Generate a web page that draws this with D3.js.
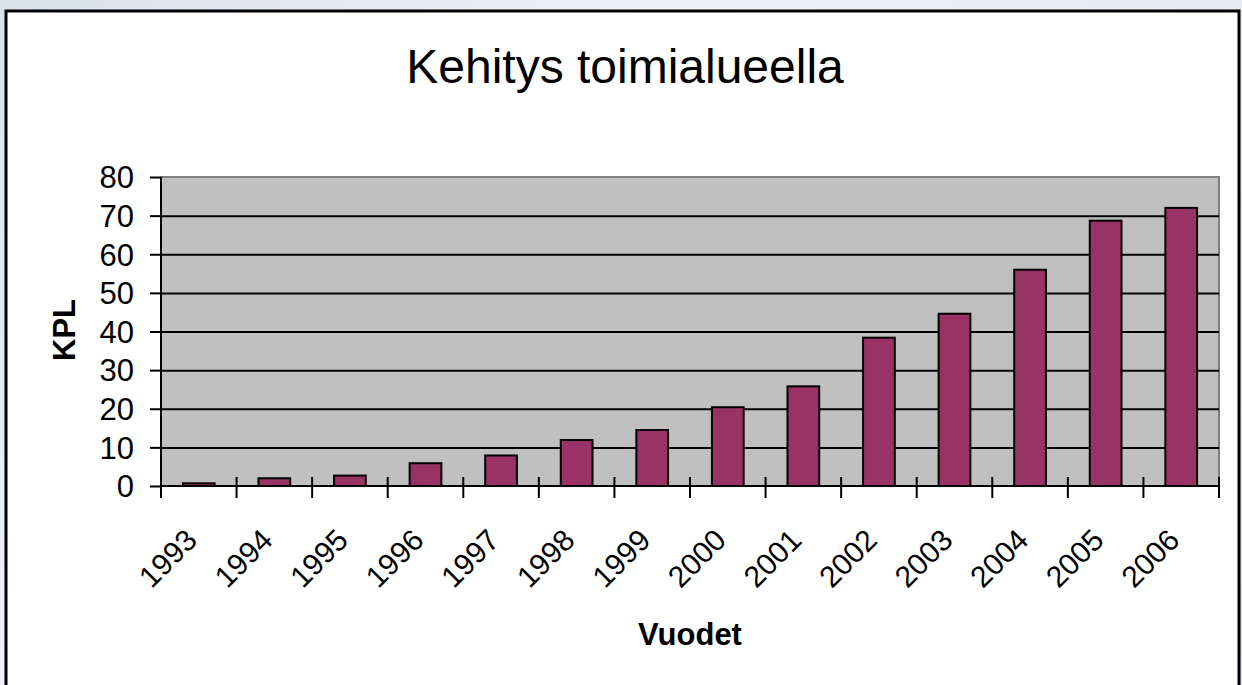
<!DOCTYPE html>
<html>
<head>
<meta charset="utf-8">
<script src="https://cdn.jsdelivr.net/npm/d3@7/dist/d3.min.js"></script>
<style>
  html,body{margin:0;padding:0;}
  body{width:1242px;height:685px;overflow:hidden;
    background:linear-gradient(135deg,#d9e1e9 0%,#eef2f6 35%,#e4eaf0 70%,#d5dde6 100%);}
  svg{display:block;font-family:"Liberation Sans",Arial,sans-serif;}
</style>
</head>
<body>
<svg id="chart" width="1242" height="685"></svg>
<script>
// data
var years=["1993","1994","1995","1996","1997","1998","1999","2000","2001","2002","2003","2004","2005","2006"];
var counts=[0.7,2,2.7,5.9,7.9,11.9,14.5,20.4,25.8,38.4,44.6,56,68.7,72];
var yTicks=[0,10,20,30,40,50,60,70,80];
var chartTitle="Kehitys toimialueella";
var yTitle="KPL";
var xTitle="Vuodet";

var svg=d3.select("#chart");

//plot area box
var plot={left:161,right:1219,top:177,bottom:486};

//white chart frame
svg.append("rect")
	.attr("x",6).attr("y",11)
	.attr("width",1233).attr("height",700)
	.attr("fill","#fff")
	.attr("stroke","#000")
	.attr("stroke-width",3);

var xCat=d3.scaleBand().domain(years).range([plot.left,plot.right]).padding(0);
var xBar=d3.scaleBand().domain(years).range([plot.left,plot.right]).paddingInner(0.58).paddingOuter(0.29);
var y=d3.scaleLinear().domain([0,80]).range([plot.bottom,plot.top]);

//grey plot background
svg.append("rect")
	.attr("x",plot.left).attr("y",plot.top)
	.attr("width",plot.right-plot.left).attr("height",plot.bottom-plot.top)
	.attr("fill","#c0c0c0")
	.attr("stroke","#808080")
	.attr("stroke-width",2);

//gridlines
var grid=svg.append("g")
	.attr("transform","translate("+plot.left+",0)")
	.call(d3.axisLeft(y).tickValues(yTicks.slice(1,-1)).tickSize(-(plot.right-plot.left)).tickFormat(""));
grid.select(".domain").remove();
grid.selectAll("line").attr("stroke","#000").attr("stroke-width",2);

//bars
svg.append("g").selectAll("rect")
	.data(counts)
	.enter().append("rect")
	.attr("x",function(d,i){return xBar(years[i]);})
	.attr("y",function(d){return y(d);})
	.attr("width",xBar.bandwidth())
	.attr("height",function(d){return y(0)-y(d);})
	.attr("fill","#993366")
	.attr("stroke","#000")
	.attr("stroke-width",2);

//y axis
var yAxis=svg.append("g")
	.attr("transform","translate("+plot.left+",0)")
	.call(d3.axisLeft(y).tickValues(yTicks).tickSize(11).tickPadding(16));
yAxis.select(".domain").attr("d","M0,"+(plot.bottom+12)+"V"+plot.top).attr("stroke","#000").attr("stroke-width",2);
yAxis.selectAll("line").attr("stroke","#000").attr("stroke-width",2);
yAxis.selectAll("text").attr("font-size",31).attr("fill","#000").attr("font-family","Liberation Sans, Arial, sans-serif").attr("dy","0.35em");

//x axis line + crossing ticks at category boundaries
var xAxis=svg.append("g");
xAxis.append("line")
	.attr("x1",plot.left).attr("x2",plot.right)
	.attr("y1",plot.bottom).attr("y2",plot.bottom)
	.attr("stroke","#000").attr("stroke-width",2);
var bounds=years.slice(1).map(function(d){return xCat(d);}).concat([plot.right]);
xAxis.selectAll(".xtick")
	.data(bounds)
	.enter().append("line")
	.attr("class","xtick")
	.attr("x1",function(d){return d;}).attr("x2",function(d){return d;})
	.attr("y1",plot.bottom-9).attr("y2",plot.bottom+12)
	.attr("stroke","#000").attr("stroke-width",2);

//rotated year labels
xAxis.selectAll(".xlab")
	.data(years)
	.enter().append("text")
	.attr("class","xlab")
	.attr("transform",function(d){return "translate("+(xCat(d)+xCat.bandwidth()/2)+",542) rotate(-45)";})
	.attr("text-anchor","end")
	.attr("font-size",30)
	.text(function(d){return d;});

//titles
svg.append("text")
	.attr("x",625).attr("y",83)
	.attr("text-anchor","middle")
	.attr("font-size",48)
	.text(chartTitle);

svg.append("text")
	.attr("transform","translate(75,330) rotate(-90)")
	.attr("text-anchor","middle")
	.attr("font-size",31)
	.attr("font-weight","bold")
	.text(yTitle);

svg.append("text")
	.attr("x",(plot.left+plot.right)/2).attr("y",645)
	.attr("text-anchor","middle")
	.attr("font-size",31)
	.attr("font-weight","bold")
	.text(xTitle);
</script>
</body>
</html>
